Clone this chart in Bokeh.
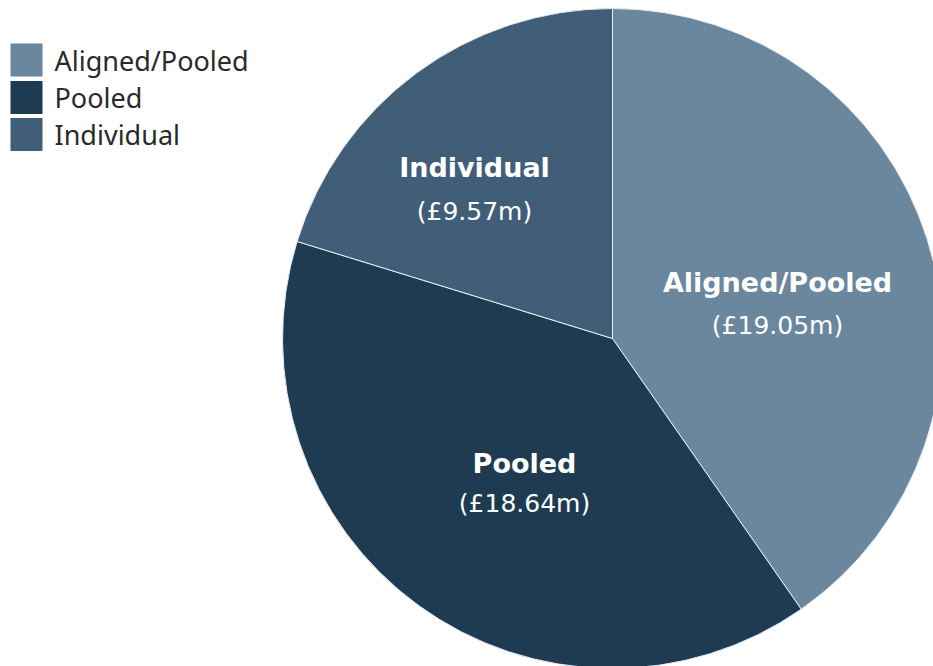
import numpy as np
from bokeh.plotting import figure
from bokeh.models import Range1d, ColumnDataSource
from bokeh.core.properties import value
from bokeh.embed import file_html
from bokeh.resources import INLINE

categories = ["Aligned/Pooled", "Pooled", "Individual"]
amounts = [19.05, 18.64, 9.57]
colors = ["#6a879e", "#1f3b52", "#415e78"]
value_labels = ["(£19.05m)", "(£18.64m)", "(£9.57m)"]

W, H = 933, 666
p = figure(width=W, height=H, output_backend="svg", toolbar_location=None,
           x_range=Range1d(0, W), y_range=Range1d(0, H), min_border=0)
p.axis.visible = False
p.grid.visible = False
p.outline_line_color = None
p.background_fill_color = "white"
p.border_fill_color = "white"

cx, cy, r = 612, 666 - 338, 330
vals = np.array(amounts)
frac = vals / vals.sum()
cum = np.concatenate([[0], np.cumsum(frac)])
start = np.pi / 2 - cum[:-1] * 2 * np.pi
end = np.pi / 2 - cum[1:] * 2 * np.pi
src = ColumnDataSource(dict(start=start, end=end, color=colors))
p.wedge(x=cx, y=cy, radius=r, start_angle="start", end_angle="end", direction="clock",
        fill_color="color", line_color="#e8eef3", line_width=1, source=src)

# labels
lab_x = [777, 524, 474]
lab_y1 = [666 - 282, 666 - 463, 666 - 167]
lab_y2 = [666 - 325, 666 - 503, 666 - 211]
p.text(x=lab_x, y=lab_y1, text=categories, text_align="center", text_baseline="middle",
       text_color="white", text_font=value("DejaVu Sans"), text_font_style="bold",
       text_font_size="27px")
p.text(x=lab_x, y=lab_y2, text=value_labels, text_align="center", text_baseline="middle",
       text_color="white", text_font=value("DejaVu Sans"), text_font_size="25px")

# legend
ly = [666 - 59.5, 666 - 97, 666 - 134]
p.rect(x=[26] * 3, y=ly, width=32, height=33, fill_color=colors, line_color=None)
p.text(x=[54] * 3, y=ly, text=categories, text_align="left", text_baseline="middle",
       text_color="#2a2a2a", text_font=value("Noto Sans"), text_font_size="27px")

open("out.html", "w").write(file_html(p, INLINE))
